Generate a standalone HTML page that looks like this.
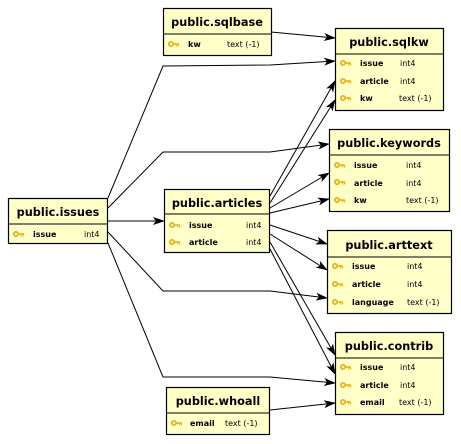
<!DOCTYPE html>
<html><head><meta charset="utf-8"><style>
html,body{margin:0;padding:0;background:#fff;width:461px;height:444px;overflow:hidden}
svg{display:block}
.t{font-family:"DejaVu Sans","Liberation Sans",sans-serif;font-weight:bold;font-size:11.3px;fill:#000}
.c{font-family:"DejaVu Sans","Liberation Sans",sans-serif;font-weight:bold;font-size:8px;fill:#000}
.y{font-family:"DejaVu Sans","Liberation Sans",sans-serif;font-size:8px;fill:#000}
.b{fill:#ffffc8;stroke:#000;stroke-width:1.2}
.l{fill:none;stroke:#000;stroke-width:1}
</style></head><body>
<svg width="461" height="444" viewBox="0 0 461 444">
<defs>
<marker id="a" markerWidth="12" markerHeight="8" refX="11" refY="4" orient="auto" markerUnits="userSpaceOnUse">
<path d="M0,0 L12,4 L0,8 L3,4 Z" fill="#000"/></marker>
<g id="k"><circle cx="3" cy="3" r="2.6" fill="#f0c030" stroke="#c89010" stroke-width="0.6"/><circle cx="3" cy="3" r="1" fill="#ffffc8"/><rect x="5" y="2.2" width="6" height="1.8" fill="#e8b828"/><rect x="8" y="3.5" width="1.2" height="2" fill="#e8b828"/><rect x="10" y="3.5" width="1.2" height="2" fill="#e8b828"/></g>
</defs>
<g class="l" marker-end="url(#a)">
<path d="M271,32 L335,38"/>
<path d="M108,198 L163,66 L270,65 L335,61"/>
<path d="M108,208 L163,152 L270,152 L329,144"/>
<path d="M108,221 L164,221"/>
<path d="M108,232 L163,291 L270,291 L327,298"/>
<path d="M108,243 L163,377 L270,377 L335,383"/>
<path d="M270,196 L335,81"/>
<path d="M270,203 L335,100"/>
<path d="M270,208 L329,173"/>
<path d="M270,213 L329,199"/>
<path d="M270,225 L327,244"/>
<path d="M270,234 L327,270"/>
<path d="M270,242 L335,355"/>
<path d="M270,249 L335,374"/>
<path d="M270,410 L335,403"/>
</g>
<rect class="b" x="163.5" y="8.5" width="108" height="47"/><line class="l" x1="163.5" y1="34" x2="271.5" y2="34"/>
<text class="t" x="217" y="26" text-anchor="middle">public.sqlbase</text>
<use href="#k" x="168" y="41"/><text class="c" x="188" y="47">kw</text><text class="y" x="227" y="47">text (-1)</text>
<rect class="b" x="335.5" y="28.5" width="108" height="82"/><line class="l" x1="335.5" y1="54" x2="443.5" y2="54"/>
<text class="t" x="389" y="46" text-anchor="middle">public.sqlkw</text>
<use href="#k" x="340" y="60"/><text class="c" x="360" y="66">issue</text><text class="y" x="400" y="66">int4</text>
<use href="#k" x="340" y="78"/><text class="c" x="360" y="84">article</text><text class="y" x="400" y="84">int4</text>
<use href="#k" x="340" y="95"/><text class="c" x="360" y="101">kw</text><text class="y" x="399" y="101">text (-1)</text>
<rect class="b" x="329.5" y="129.5" width="120" height="82"/><line class="l" x1="329.5" y1="155" x2="449.5" y2="155"/>
<text class="t" x="389" y="147" text-anchor="middle">public.keywords</text>
<use href="#k" x="334" y="162"/><text class="c" x="354" y="168">issue</text><text class="y" x="406" y="168">int4</text>
<use href="#k" x="334" y="179"/><text class="c" x="354" y="186">article</text><text class="y" x="406" y="186">int4</text>
<use href="#k" x="334" y="197"/><text class="c" x="354" y="203">kw</text><text class="y" x="406" y="203">text (-1)</text>
<rect class="b" x="8.5" y="198.5" width="99" height="45"/><line class="l" x1="8.5" y1="224" x2="107.5" y2="224"/>
<text class="t" x="58" y="216" text-anchor="middle">public.issues</text>
<use href="#k" x="13" y="231"/><text class="c" x="33" y="237">issue</text><text class="y" x="84" y="237">int4</text>
<rect class="b" x="164.5" y="189.5" width="105" height="63"/><line class="l" x1="164.5" y1="214" x2="269.5" y2="214"/>
<text class="t" x="217" y="207" text-anchor="middle">public.articles</text>
<use href="#k" x="169" y="222"/><text class="c" x="189" y="228">issue</text><text class="y" x="246" y="228">int4</text>
<use href="#k" x="169" y="239"/><text class="c" x="189" y="245">article</text><text class="y" x="246" y="245">int4</text>
<rect class="b" x="327.5" y="230.5" width="124" height="83"/><line class="l" x1="327.5" y1="257" x2="451.5" y2="257"/>
<text class="t" x="389" y="249" text-anchor="middle">public.arttext</text>
<use href="#k" x="332" y="263"/><text class="c" x="352" y="269">issue</text><text class="y" x="407" y="269">int4</text>
<use href="#k" x="332" y="281"/><text class="c" x="352" y="287">article</text><text class="y" x="407" y="287">int4</text>
<use href="#k" x="332" y="299"/><text class="c" x="352" y="305">language</text><text class="y" x="407" y="305">text (-1)</text>
<rect class="b" x="335.5" y="332.5" width="108" height="82"/><line class="l" x1="335.5" y1="358" x2="443.5" y2="358"/>
<text class="t" x="389" y="350" text-anchor="middle">public.contrib</text>
<use href="#k" x="340" y="364"/><text class="c" x="360" y="370">issue</text><text class="y" x="400" y="370">int4</text>
<use href="#k" x="340" y="382"/><text class="c" x="360" y="388">article</text><text class="y" x="400" y="388">int4</text>
<use href="#k" x="340" y="399"/><text class="c" x="360" y="405">email</text><text class="y" x="399" y="405">text (-1)</text>
<rect class="b" x="166.5" y="387.5" width="103" height="47"/><line class="l" x1="166.5" y1="413" x2="269.5" y2="413"/>
<text class="t" x="218" y="405" text-anchor="middle">public.whoall</text>
<use href="#k" x="171" y="420"/><text class="c" x="190" y="426">email</text><text class="y" x="225" y="426">text (-1)</text>
</svg>
</body></html>
